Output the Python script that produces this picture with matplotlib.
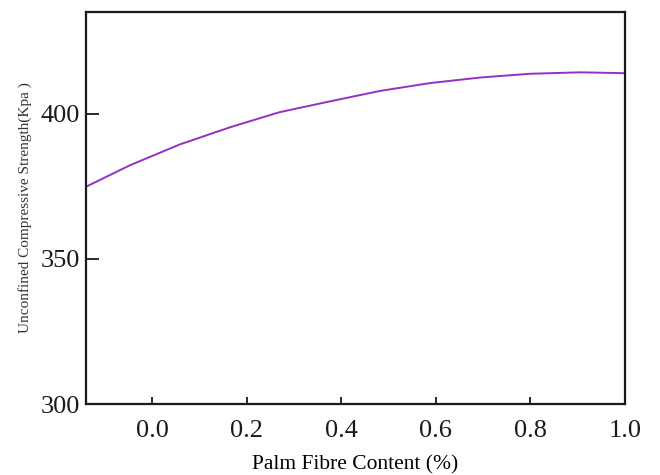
import matplotlib
matplotlib.use("Agg")
import matplotlib.pyplot as plt

# values
fibre_content = [-0.14, -0.047, 0.059, 0.165, 0.270, 0.376, 0.482,
                 0.588, 0.693, 0.799, 0.905, 1.0]
ucs_kpa = [374.8, 382.2, 389.4, 395.3, 400.5, 404.2, 407.8,
           410.5, 412.4, 413.7, 414.2, 413.9]

x_ticks = [0.0, 0.2, 0.4, 0.6, 0.8, 1.0]
y_ticks = [300, 350, 400]

plt.rcParams["font.family"] = ["Liberation Serif", "DejaVu Serif"]

fig = plt.figure(figsize=(6.6, 4.75), dpi=100)
ax = fig.add_axes([0.130, 0.149, 0.817, 0.826])

ax.plot(fibre_content, ucs_kpa, color="#9430c4", lw=1.4)

ax.set_xlim(-0.14, 1.0)
ax.set_ylim(300, 435)
ax.set_xticks(x_ticks)
ax.set_yticks(y_ticks)
ax.set_xticklabels([f"{v:.1f}" for v in x_ticks])

ax.tick_params(axis="both", direction="in", labelsize=19, width=1.3,
               colors="#1a1a1a")
ax.tick_params(axis="y", length=9, pad=4)
ax.tick_params(axis="x", length=5, pad=11)
for s in ax.spines.values():
    s.set_linewidth(1.6)
    s.set_color("#1a1a1a")

ax.set_xlabel("Palm Fibre Content (%)", fontsize=15.5, labelpad=10)
ax.set_ylabel("Unconfined Compressive Strength(Kpa )", fontsize=11,
              color="#333333")
ax.yaxis.set_label_coords(-0.100, 0.5)

fig.savefig("out.png", dpi=100)
